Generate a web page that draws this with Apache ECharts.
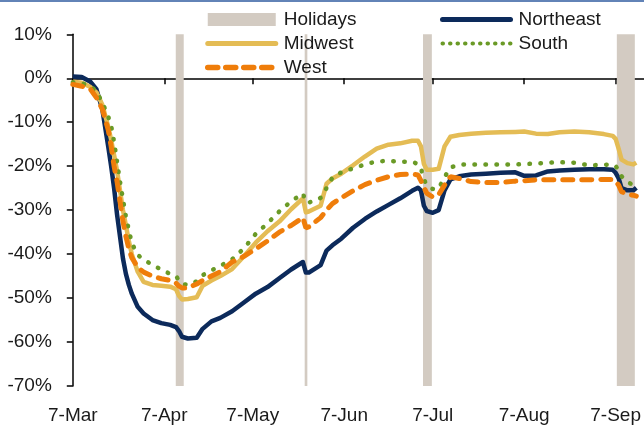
<!DOCTYPE html>
<html lang="en">
<head>
    <meta charset="UTF-8">
    <title>Regional mobility</title>
    <script src="https://cdn.jsdelivr.net/npm/echarts@6/dist/echarts.min.js"></script>
    <style>
        body { margin: 0; background: #fff; }
        #main { width: 644px; height: 428px; }
    </style>
</head>
<body>
<div id="main"></div>
<script type="text/javascript">
    // sample dates (2020), values in % vs baseline
    var dates = ['2020-03-07','2020-03-10','2020-03-13','2020-03-15','2020-03-17','2020-03-19','2020-03-20','2020-03-21',
        '2020-03-22','2020-03-23','2020-03-24','2020-03-25','2020-03-26','2020-03-27','2020-03-29','2020-03-31',
        '2020-04-03','2020-04-06','2020-04-09','2020-04-11','2020-04-12','2020-04-13','2020-04-15','2020-04-18',
        '2020-04-20','2020-04-23','2020-04-26','2020-04-30','2020-05-04','2020-05-08','2020-05-12','2020-05-16',
        '2020-05-20','2020-05-24','2020-05-25','2020-05-26','2020-05-30','2020-06-01','2020-06-03','2020-06-06',
        '2020-06-10','2020-06-14','2020-06-18','2020-06-22','2020-06-26','2020-06-30','2020-07-02','2020-07-03',
        '2020-07-04','2020-07-05','2020-07-07','2020-07-09','2020-07-11','2020-07-13','2020-07-16','2020-07-20',
        '2020-07-25','2020-07-30','2020-08-04','2020-08-07','2020-08-11','2020-08-15','2020-08-19','2020-08-24',
        '2020-08-29','2020-09-03','2020-09-06','2020-09-07','2020-09-08','2020-09-09','2020-09-11','2020-09-13',
        '2020-09-14'];

    var northeast = [0.4,0.3,-0.8,-2.5,-7,-15.5,-20,-25,-31,-36,-41,-44.5,-47,-49,-52,-53.5,
        -55,-55.7,-56.1,-56.6,-57.5,-58.8,-59.2,-59,-57,-55.3,-54.5,-53,-51,-49,-47.5,-45.5,
        -43.5,-41.8,-44.2,-44.2,-42.5,-39.2,-38,-36.5,-34,-32,-30.3,-28.8,-27.3,-25.6,-24.9,-25.5,
        -29,-30.2,-30.6,-30,-25.5,-23,-22.3,-21.9,-21.7,-21.5,-21.4,-22.2,-22.1,-21.2,-21,-20.8,
        -20.7,-20.7,-20.8,-21.5,-22.7,-25,-25.5,-25.5,-24.9];
    var midwest = [-0.8,-1,-2,-3.2,-6,-11,-14,-17.5,-21,-25.5,-30,-33.5,-37,-40,-44,-46.3,
        -47,-47.2,-47.4,-48,-49.5,-50.3,-50.2,-49.8,-47.2,-46,-45,-43.4,-40.5,-37.4,-34.8,-32.6,
        -29.8,-27.3,-30.5,-30.3,-29,-24,-22.8,-21.7,-19.8,-17.8,-16,-15.1,-14.8,-14.2,-14.2,-15.5,
        -19.5,-20.8,-20.8,-20.6,-15.5,-13.3,-12.9,-12.6,-12.4,-12.3,-12.2,-12.1,-12.6,-12.7,-12.3,-12.1,
        -12.3,-12.7,-13.1,-13.8,-16,-18.5,-19.3,-19.6,-19.2];
    var south = [-0.9,-1.1,-1.8,-3,-5.5,-8.7,-10.8,-14.5,-19,-23.5,-27.5,-31.5,-34.5,-37.5,-40.2,-41.2,
        -42.5,-43.5,-44.5,-45,-46,-46.8,-47,-46.2,-44.8,-43.7,-42.7,-41.2,-38.7,-35.4,-33,-30.3,
        -28,-26.2,-28.2,-28.3,-27.2,-25,-22.6,-21.4,-20.5,-19.6,-18.9,-18.8,-19,-19,-19.5,-20.5,
        -23,-24.3,-25.2,-25.1,-22.5,-20.3,-19.6,-19.6,-19.6,-19.6,-19.6,-19.5,-19.4,-19.2,-19.1,-19.2,
        -19.8,-19.7,-19.6,-20,-20.8,-22.3,-23.6,-24.3,-24.5];
    var west = [-1.4,-1.8,-2.5,-4.4,-7,-11.7,-15.5,-20,-23.5,-28,-32.5,-36,-38.8,-40.8,-43,-44.1,
        -45,-45.6,-46,-46.6,-47.3,-47.7,-47.7,-46.8,-46,-45,-44,-41.8,-40.5,-38.8,-37,-35,
        -33.5,-31.7,-34,-33.8,-31.7,-30,-28.5,-27.2,-25.6,-24.2,-23.2,-22.4,-21.9,-21.8,-22,-23.3,
        -24.8,-26.2,-27,-26.5,-24.3,-22.4,-22.8,-23.5,-23.7,-23.7,-23.4,-23.3,-23.1,-23.1,-23.1,-23.1,
        -23.1,-23,-23,-23.5,-24.3,-25.8,-26.4,-26.6,-26.8];

    // holiday shading, in days after 7-Mar
    var holidayStart = [34.9, 78.6, 118.7, 184.4];
    var holidayEnd = [37.6, 79.5, 121.7, 190.5];

    var labelDates = ['2020-03-07','2020-04-07','2020-05-07','2020-06-07','2020-07-07','2020-08-07','2020-09-07'];
    var monthNames = ['Jan','Feb','Mar','Apr','May','Jun','Jul','Aug','Sep','Oct','Nov','Dec'];
    var yTicks = [-70, 10, 10]; // min, max, step

    var t0 = Date.UTC(2020, 2, 7);
    function dayOf(s) {
        var p = s.split('-');
        return Math.round((Date.UTC(+p[0], +p[1] - 1, +p[2]) - t0) / 86400000);
    }
    function pairs(vals) {
        return vals.map(function (v, i) { return [dayOf(dates[i]), v]; });
    }
    var tickDays = labelDates.map(dayOf);

    var font = 'Liberation Sans, Arial, sans-serif';
    var hideDot = { opacity: 0 };
    var legendText = { fontSize: 19, color: '#1a1a1a', fontFamily: font, padding: [0, 0, 0, 3] };
    var myChart = echarts.init(document.getElementById('main'));

    myChart.setOption({
        animation: false,
        textStyle: { fontFamily: font },
        graphic: [{
            type: 'rect', left: 0, top: 0, silent: true,
            shape: { width: 644, height: 2 },
            style: { fill: '#6283b7' }
        }],
        grid: { left: 72.8, right: 0, top: 34.3, bottom: 42 },
        legend: [{
            left: 205, top: 10, orient: 'vertical', padding: 0,
            itemWidth: 68, itemHeight: 13, itemGap: 5,
            textStyle: legendText,
            data: [
                { name: 'Holidays', icon: 'rect' },
                { name: 'Midwest', itemStyle: hideDot, lineStyle: { width: 5, cap: 'round' } },
                { name: 'West', itemStyle: hideDot, lineStyle: { width: 5.5, type: [10, 8], cap: 'round' } }
            ]
        }, {
            left: 440, top: 10, orient: 'vertical', padding: 0,
            itemWidth: 68, itemHeight: 13, itemGap: 5,
            textStyle: legendText,
            data: [
                { name: 'Northeast', itemStyle: hideDot, lineStyle: { width: 5, cap: 'round' } },
                { name: 'South', itemStyle: hideDot, lineStyle: { width: 4, type: [0.5, 7], cap: 'round' } }
            ]
        }],
        xAxis: [{
            type: 'value', min: 0, max: 193.5,
            axisLine: { onZero: true, lineStyle: { color: '#000', width: 1.5 } },
            axisTick: { show: true, length: 6, customValues: tickDays, lineStyle: { color: '#000', width: 1.5 } },
            axisLabel: { show: false },
            splitLine: { show: false }
        }, {
            type: 'value', min: 0, max: 193.5, position: 'bottom',
            axisLine: { show: false, onZero: false },
            axisTick: { show: false },
            axisLabel: {
                customValues: tickDays, margin: 20, fontSize: 19, color: '#1a1a1a',
                formatter: function (v) {
                    var d = new Date(t0 + v * 86400000);
                    return d.getUTCDate() + '-' + monthNames[d.getUTCMonth()];
                }
            },
            splitLine: { show: false }
        }],
        yAxis: {
            type: 'value', min: yTicks[0], max: yTicks[1], interval: yTicks[2],
            axisLine: { show: true, lineStyle: { color: '#000', width: 1.5 } },
            axisTick: { show: true, length: 6, lineStyle: { color: '#000', width: 1.5 } },
            axisLabel: { formatter: '{value}%', fontSize: 19, color: '#1a1a1a', margin: 21 },
            splitLine: { show: false }
        },
        series: [{
            name: 'Holidays', type: 'bar', data: [],
            itemStyle: { color: '#d3cbc2' },
            markArea: {
                silent: true,
                itemStyle: { color: '#d3cbc2', opacity: 1 },
                label: { show: false },
                data: holidayStart.map(function (s, i) {
                    return [{ xAxis: s }, { xAxis: holidayEnd[i] }];
                })
            }
        }, {
            name: 'Northeast', type: 'line', symbol: 'none', data: pairs(northeast),
            itemStyle: { color: '#0c2a5b' },
            lineStyle: { color: '#0c2a5b', width: 4.5, join: 'round' }
        }, {
            name: 'Midwest', type: 'line', symbol: 'none', data: pairs(midwest),
            itemStyle: { color: '#e4bc55' },
            lineStyle: { color: '#e4bc55', width: 4.5, join: 'round' }
        }, {
            name: 'South', type: 'line', symbol: 'none', data: pairs(south),
            itemStyle: { color: '#6a9a26' },
            lineStyle: { color: '#6a9a26', width: 4.5, type: [0.5, 10.5], cap: 'round' }
        }, {
            name: 'West', type: 'line', symbol: 'none', data: pairs(west),
            itemStyle: { color: '#ef7d0a' },
            lineStyle: { color: '#ef7d0a', width: 5, type: [10, 9], cap: 'round' }
        }]
    });
</script>
</body>
</html>
